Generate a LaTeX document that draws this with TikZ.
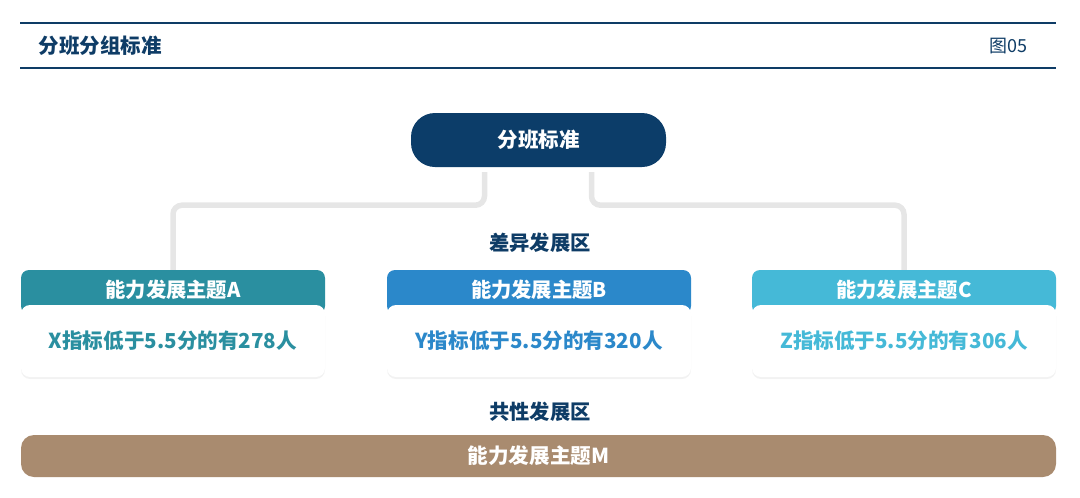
\documentclass[tikz,border=0pt]{standalone}
\usepackage{fontspec}
\setmainfont{Noto Sans CJK SC}
\usetikzlibrary{shadows,backgrounds}
\definecolor{navy}{HTML}{0E3C66}
\definecolor{rootc}{HTML}{0C3D69}
\definecolor{colA}{HTML}{2A8FA0}
\definecolor{colB}{HTML}{2B88CA}
\definecolor{colC}{HTML}{45B9D7}
\definecolor{barc}{HTML}{A98B6F}
\definecolor{connc}{HTML}{E6E6E6}
\tikzset{
  hline/.style={draw=navy, line width=1.6pt},
  rootbox/.style={rectangle, rounded corners=24pt, fill=rootc, minimum width=255pt, minimum height=54pt, text=white, font=\fontsize{20.5}{22}\selectfont\bfseries},
  headbox/.style={rectangle, rounded corners=8pt, fill=#1, minimum width=304pt, minimum height=44pt, text=white, font=\fontsize{20.3}{22}\selectfont\bfseries, text depth=5pt, text height=15pt},
  bodybox/.style={rectangle, rounded corners=9pt, fill=white, minimum width=304pt, minimum height=72pt, text=#1, font=\fontsize{20.6}{22}\selectfont\bfseries, drop shadow={opacity=0.10, shadow xshift=0pt, shadow yshift=-2pt}},
  zonelabel/.style={text=navy, font=\fontsize{20.3}{22}\selectfont\bfseries},
  barbox/.style={rectangle, rounded corners=13pt, fill=barc, minimum width=1035pt, minimum height=42pt, text=white, font=\fontsize{20.6}{22}\selectfont\bfseries},
  conn/.style={draw=connc, line width=5.5pt, rounded corners=9pt},
}
\begin{document}
\begin{tikzpicture}[x=1pt,y=-1pt]
\useasboundingbox (0,0) rectangle (1080,498);
% header
\draw[hline] (20,23) -- (1056,23);
\draw[hline] (20,68) -- (1056,68);
\node[anchor=west, text=navy, font=\fontsize{20.5}{22}\selectfont\bfseries] (title) at (35,46) {分班分组标准};
\node[anchor=east, text=navy, font=\fontsize{18}{20}\selectfont] (fig) at (1031,46) {图05};
% root
\node[rootbox] (root) at (538.5,140) {分班标准};
% zone label
\node[zonelabel] (diff) at (540,243) {差异发展区};
% cards
\node[headbox=colA] (hA) at (173,292) {能力发展主题A};
\node[headbox=colB] (hB) at (539,292) {能力发展主题B};
\node[headbox=colC] (hC) at (904,292) {能力发展主题C};
\node[bodybox=colA] (bA) at (173,341) {X指标低于5.5分的有278人};
\node[bodybox=colB] (bB) at (539,341) {Y指标低于5.5分的有320人};
\node[bodybox=colC] (bC) at (904,341) {Z指标低于5.5分的有306人};
% connectors
\begin{scope}[on background layer]
\draw[conn] ([xshift=-54pt,yshift=-5pt]root.south) -- ++(0,33) -| ([yshift=-4pt]hA.north);
\draw[conn] ([xshift=53pt,yshift=-5pt]root.south) -- ++(0,33) -| ([yshift=-4pt]hC.north);
\end{scope}
% common zone
\node[zonelabel] (common) at (540,412) {共性发展区};
\node[barbox] (bar) at (538.5,456) {能力发展主题M};
\end{tikzpicture}
\end{document}
